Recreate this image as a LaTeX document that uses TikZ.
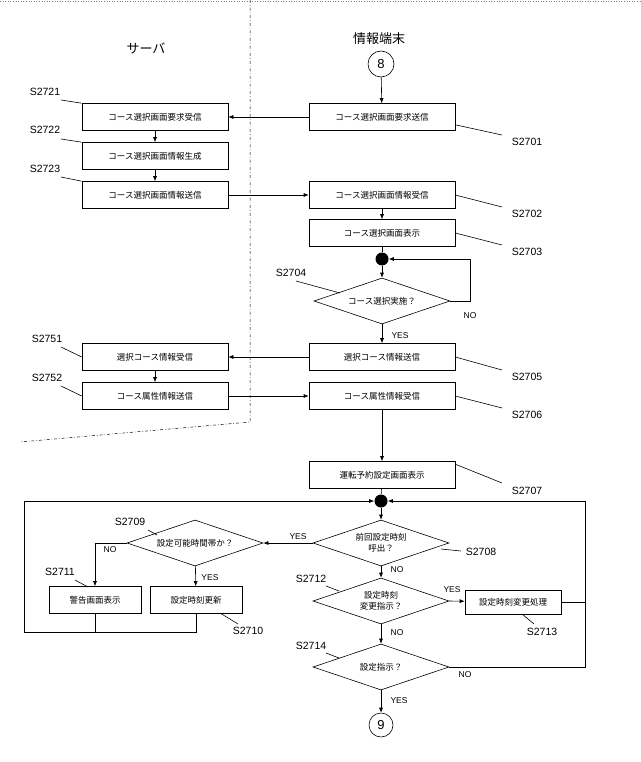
\documentclass[tikz,border=0pt]{standalone}
\usepackage{fontspec}
\setmainfont{Liberation Sans}
\newfontfamily\cjk{Noto Sans CJK JP}
\usetikzlibrary{shapes.geometric,arrows.meta}

\begin{document}
\begin{tikzpicture}[x=1pt,y=-1pt,
    box/.style={draw, minimum width=146pt, minimum height=27pt, font=\cjk\fontsize{8.5}{10}\selectfont},
    sbox/.style={draw, minimum width=92pt, minimum height=27pt, font=\cjk\fontsize{8.5}{10}\selectfont},
    dec/.style={draw, diamond, aspect=2.9, minimum width=136pt, minimum height=46pt, inner sep=0pt, align=center, font=\cjk\fontsize{8.5}{11}\selectfont},
    stp/.style={font=\fontsize{10.5}{12}\selectfont},
    yn/.style={font=\fontsize{8.5}{10}\selectfont},
    arr/.style={-{Latex[length=5pt,width=4pt]}},
    every path/.style={line width=0.6pt}]
    \useasboundingbox (0,0) rectangle (640,762);

    % Lanes
    \draw[dotted, gray] (0,1) -- (640,1);
    \draw[dash dot, line width=0.5pt] (250,0) -- (250,422) -- (20,442);
    \node[font=\cjk\fontsize{13}{14}\selectfont] (srv) at (146,48) {サーバ};
    \node[font=\cjk\fontsize{13}{14}\selectfont] (trm) at (379,39) {情報端末};

    % Terminal side
    \node[draw, circle, minimum size=26pt, inner sep=0pt, font=\fontsize{13}{14}\selectfont] (c8) at (381,64) {8};
    \node[box] (s2701) at (382,117) {コース選択画面要求送信};
    \node[box] (s2702) at (382,195) {コース選択画面情報受信};
    \node[box] (s2703) at (382,233) {コース選択画面表示};
    \node[circle, fill, minimum size=13pt, inner sep=0pt] (dt1) at (382,259) {};
    \node[dec] (s2704) at (382,301) {コース選択実施？};
    \node[box] (s2705) at (382,357) {選択コース情報送信};
    \node[box] (s2706) at (382,396) {コース属性情報受信};
    \node[box] (s2707) at (382,475) {運転予約設定画面表示};
    \node[circle, fill, minimum size=13pt, inner sep=0pt] (dt2) at (381,501) {};
    \node[dec] (s2708) at (381,543) {前回設定時刻\\呼出？};
    \node[dec] (s2709) at (195,543) {設定可能時間帯か？};
    \node[sbox] (s2711) at (95,600) {警告画面表示};
    \node[sbox] (s2710) at (196,600) {設定時刻更新};
    \node[dec] (s2712) at (381,601) {設定時刻\\変更指示？};
    \node[sbox, minimum width=96pt, minimum height=24pt] (s2713) at (513,602) {設定時刻変更処理};
    \node[dec] (s2714) at (381,667) {設定指示？};
    \node[draw, circle, minimum size=24pt, inner sep=0pt, font=\fontsize{13}{14}\selectfont] (c9) at (381,725) {9};

    % Server side
    \node[box] (s2721) at (155,117) {コース選択画面要求受信};
    \node[box] (s2722) at (155,156) {コース選択画面情報生成};
    \node[box] (s2723) at (155,195) {コース選択画面情報送信};
    \node[box] (s2751) at (155,357) {選択コース情報受信};
    \node[box] (s2752) at (155,396) {コース属性情報送信};

    % Flow
    \draw[arr] (c8) -- (s2701);
    \draw[arr] (s2701) -- (s2721);
    \draw[arr] (s2721) -- (s2722);
    \draw[arr] (s2722) -- (s2723);
    \draw[arr] (s2723) -- (s2702);
    \draw[arr] (s2702) -- (s2703);
    \draw (s2703) -- (dt1);
    \draw[arr] (dt1) -- (s2704);
    \draw[arr] (s2704.east) -- (470,301) -- (470,259) -- (dt1);
    \draw[arr] (s2704) -- (s2705);
    \draw[arr] (s2705) -- (s2751);
    \draw[arr] (s2751) -- (s2752);
    \draw[arr] (s2752) -- (s2706);
    \draw[arr] (s2706) -- (s2707);
    \draw (s2707) -- (dt2);
    \draw[arr] (dt2) -- (s2708);
    \draw[arr] (s2708.west) -- (s2709.east);
    \draw[arr] (s2709.west) -| (s2711.north);
    \draw[arr] (s2709) -- (s2710);
    \draw (s2711.south) -- (95,632) -- (196,632) -- (s2710.south);
    \draw[arr] (95,632) -- (24,632) -- (24,501) -- (dt2);
    \draw[arr] (s2708) -- (s2712);
    \draw[arr] (s2712.east) -- (s2713);
    \draw[arr] (s2712) -- (s2714);
    \draw (s2713.east) -- (585,602);
    \draw[arr] (s2714.east) -- (585,667) -- (585,501) -- (dt2);
    \draw[arr] (s2714) -- (c9);

    % Decision labels
    \node[yn] (y1) at (400,336) {YES};
    \node[yn] (n1) at (470,316) {NO};
    \node[yn] (y2) at (298,537) {YES};
    \node[yn] (n2) at (110,550) {NO};
    \node[yn] (y3) at (210,578) {YES};
    \node[yn] (n3) at (397,570) {NO};
    \node[yn] (y4) at (452,590) {YES};
    \node[yn] (n4) at (397,633) {NO};
    \node[yn] (n5) at (465,675) {NO};
    \node[yn] (y5) at (399,701) {YES};

    % Step numbers
    \node[stp] (l2721) at (45,92) {S2721};
    \draw (61,100) -- (s2721.north west);
    \node[stp] (l2722) at (45,130) {S2722};
    \draw (61,139) -- (s2722.north west);
    \node[stp] (l2723) at (45,169) {S2723};
    \draw (61,177) -- (s2723.north west);
    \node[stp] (l2751) at (47,339) {S2751};
    \draw (61,347) -- (s2751.west);
    \node[stp] (l2752) at (47,378) {S2752};
    \draw (61,386) -- (s2752.west);
    \node[stp] (l2701) at (527,142) {S2701};
    \draw (s2701.south east) ++(0,-6) -- (502,135);
    \node[stp] (l2702) at (527,214) {S2702};
    \draw (s2702.east) -- (502,207);
    \node[stp] (l2703) at (527,252) {S2703};
    \draw (s2703.east) -- (502,245);
    \node[stp] (l2705) at (527,377) {S2705};
    \draw (s2705.east) -- (502,370);
    \node[stp] (l2706) at (527,415) {S2706};
    \draw (s2706.east) -- (502,408);
    \node[stp] (l2707) at (527,491) {S2707};
    \draw (s2707.north east) ++(0,3) -- (502,483);
    \node[stp] (l2704) at (291,273) {S2704};
    \draw (296,281) -- (340,293);
    \node[stp] (l2708) at (481,552) {S2708};
    \draw (441,549) -- (461,551);
    \node[stp] (l2709) at (130,522) {S2709};
    \draw (148,530) -- (157,535);
    \node[stp] (l2711) at (60,572) {S2711};
    \draw (75,580) -- (88,587);
    \node[stp] (l2710) at (248,631) {S2710};
    \draw (220,613) -- (238,624);
    \node[stp] (l2712) at (311,579) {S2712};
    \draw (326,586) -- (339,591);
    \node[stp] (l2713) at (542,632) {S2713};
    \draw (522,614) -- (534,624);
    \node[stp] (l2714) at (311,646) {S2714};
    \draw (326,653) -- (339,658);
\end{tikzpicture}
\end{document}
